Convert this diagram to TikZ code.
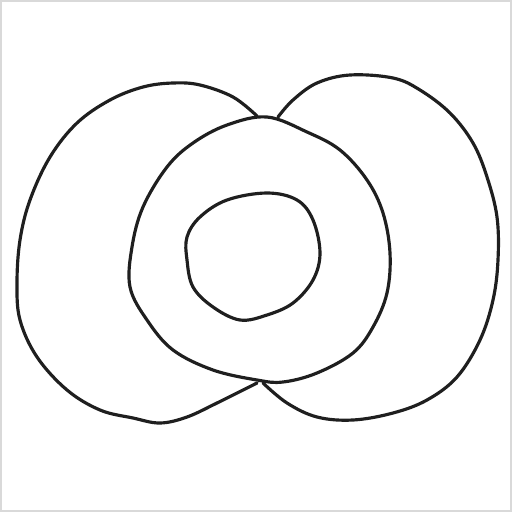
\documentclass[tikz,border=0pt]{standalone}
\usepackage{xcolor}
\usepackage{tikz}

\begin{document}
\begin{tikzpicture}[
      x=0.01cm, y=-0.01cm,
      ink/.style={draw=black!88, line width=0.9pt, line cap=round, line join=round},
      frame/.style={draw=gray!30, line width=0.6pt}]
    \useasboundingbox (0,0) rectangle (512,512);
    \draw[frame] (0.8,0.8) rectangle (511.2,511.2);
    \draw[ink] plot[smooth, tension=0.6] coordinates {
      (257,116) (233,97) (200,85) (173,83) (143,87) (110,100) (77,123) (50,157)
      (30,200) (20,240) (17,283) (20,320) (37,357) (67,390) (100,410) (133,418)
      (160,423) (187,417) (217,403) (257,383)};
    \draw[ink] plot[smooth, tension=0.6] coordinates {
      (278,117) (293,100) (317,83) (350,75) (393,78) (420,90) (450,113) (473,143)
      (487,177) (497,217) (498,260) (493,300) (480,340) (457,377) (427,400)
      (393,413) (353,420) (317,417) (287,403) (263,383)};
    \draw[ink] plot[smooth cycle, tension=0.6] coordinates {
      (267,117) (307,132) (340,150) (367,180) (383,213) (390,253) (387,293)
      (373,327) (353,353) (317,373) (283,382) (257,380) (213,370) (173,350)
      (147,320) (130,287) (132,247) (143,207) (167,167) (193,143) (227,125)};
    \draw[ink] plot[smooth cycle, tension=0.6] coordinates {
      (187,237) (200,217) (227,200) (267,193) (297,200) (313,220) (320,253)
      (313,280) (293,303) (267,315) (240,320) (213,307) (193,287) (187,260)};
  \end{tikzpicture}
\end{document}
